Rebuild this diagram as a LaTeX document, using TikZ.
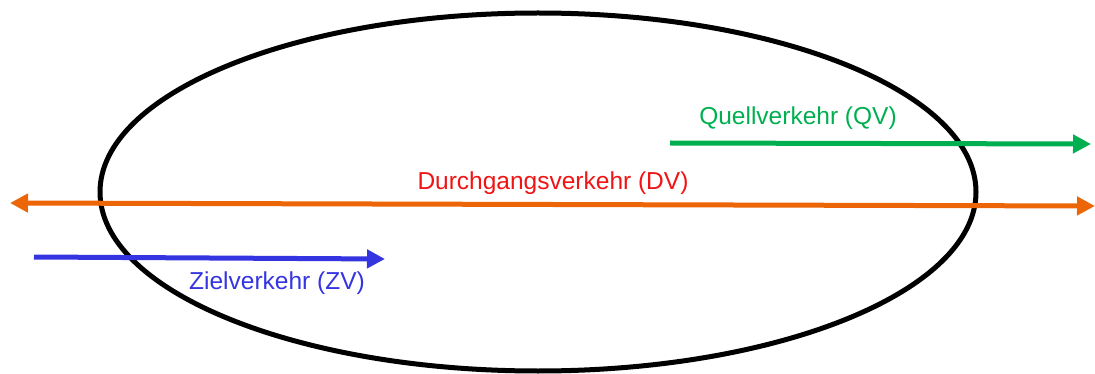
\documentclass[tikz,border=0pt]{standalone}
\usepackage{fontspec}
\setmainfont{Liberation Sans}
\usetikzlibrary{shapes.geometric,arrows.meta}
\definecolor{dvorange}{RGB}{236,102,8}
\definecolor{dvred}{RGB}{240,20,20}
\definecolor{qvgreen}{RGB}{0,176,80}
\definecolor{zvblue}{RGB}{52,52,225}
\tikzset{
  tip/.tip={Triangle[length=18pt,width=18pt]},
  flow/.style={line width=5pt,-tip},
  lbl/.style={font=\fontsize{24.5}{28}\selectfont, inner sep=0pt},
  area/.style={ellipse,draw=black,line width=5pt,minimum width=876pt,minimum height=358pt,inner sep=0pt}
}
\begin{document}
\begin{tikzpicture}[x=1pt,y=-1pt]
\useasboundingbox (0,0) rectangle (1095,374);
\node[area] (gebiet) at (538,192) {};
% Quellverkehr
\coordinate (qvA) at (670,143);
\coordinate (qvB) at (1091,144);
\draw[flow,draw=qvgreen,fill=qvgreen] (qvA) -- (qvB);
\node[lbl,text=qvgreen] (qv) at (798,118) {Quellverkehr (QV)};
% Durchgangsverkehr
\coordinate (dvA) at (10,203);
\coordinate (dvB) at (1095,206);
\draw[flow,tip-tip,draw=dvorange,fill=dvorange] (dvA) -- (dvB);
\node[lbl,text=dvred] (dv) at (553,183) {Durchgangsverkehr (DV)};
% Zielverkehr
\coordinate (zvA) at (34,257);
\coordinate (zvB) at (385,259);
\draw[flow,draw=zvblue,fill=zvblue] (zvA) -- (zvB);
\node[lbl,text=zvblue] (zv) at (277,283) {Zielverkehr (ZV)};
\end{tikzpicture}
\end{document}
